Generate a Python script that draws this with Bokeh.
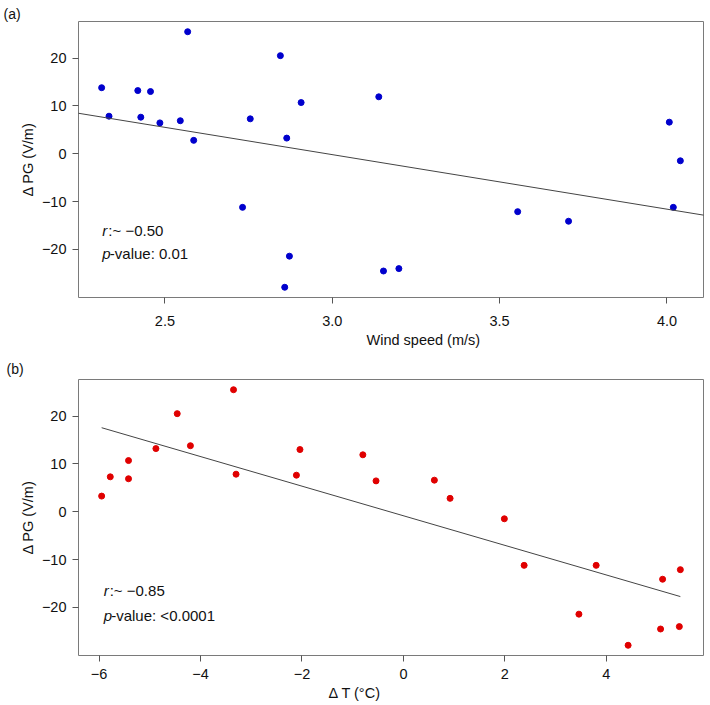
import numpy as np
from bokeh.plotting import figure
from bokeh.models import Range1d, FixedTicker, Label, Slope, Title
from bokeh.layouts import column
from bokeh.embed import file_html
from bokeh.resources import INLINE

# ---- data ----
delta_pg = [13.8, 7.85, 13.2, 7.64, 13.0, 6.45, 6.9, 25.5, 2.8, -11.2, 7.3, 20.5,
            3.27, -21.4, -27.9, 10.7, 11.9, -24.5, -24.0, -12.1, -14.1, 6.6, -11.2, -1.47]
wind_speed = [2.311, 2.333, 2.419, 2.428, 2.457, 2.485, 2.546, 2.568, 2.586, 2.732, 2.755, 2.845,
              2.864, 2.872, 2.858, 2.907, 3.139, 3.153, 3.199, 3.554, 3.706, 4.007, 4.019, 4.040]
delta_t = [-4.20, -3.30, -4.88, -2.11, -2.04, -0.54, -5.42, -3.35, 0.92, 2.38, -5.78, -4.46,
           -5.95, 3.46, 4.43, -5.42, -0.80, 5.07, 5.44, 5.46, 5.11, 0.61, 3.80, 1.99]

pg_ticks = [-20, -10, 0, 10, 20]
pg_tick_labels = ["\u221220", "\u221210", "0", "10", "20"]
wind_ticks = [2.5, 3.0, 3.5, 4.0]
wind_tick_labels = ["2.5", "3.0", "3.5", "4.0"]
dt_ticks = [-6, -4, -2, 0, 2, 4]
dt_tick_labels = ["\u22126", "\u22124", "\u22122", "0", "2", "4"]

stats_a = ["r", ":~ \u22120.50", "p", "-value: 0.01"]
stats_b = ["r", ":~ \u22120.85", "p", "-value: <0.0001"]

FONT = "Liberation Sans"
FS = "14.5px"
TXT = "#111111"


def r_range(vals):
    lo, hi = min(vals), max(vals)
    d = (hi - lo) * 0.04
    return Range1d(lo - d, hi + d)


def style(p, xt, xl, yt, yl, xstand):
    p.outline_line_color = "#7a7a7a"
    p.outline_line_width = 1
    p.xgrid.visible = False
    p.ygrid.visible = False
    for ax, t, l in ((p.xaxis[0], xt, xl), (p.yaxis[0], yt, yl)):
        ax.ticker = FixedTicker(ticks=t, minor_ticks=[])
        ax.major_label_overrides = {k: v for k, v in zip(t, l)}
        ax.axis_line_color = None
        ax.major_tick_line_color = "#555555"
        ax.major_tick_out = 6
        ax.major_tick_in = 0
        ax.minor_tick_line_color = None
        ax.major_label_text_font = FONT
        ax.major_label_text_font_size = FS
        ax.major_label_text_color = TXT
        ax.axis_label_text_font = FONT
        ax.axis_label_text_font_size = FS
        ax.axis_label_text_font_style = "normal"
        ax.axis_label_text_color = TXT
    p.xaxis.major_label_standoff = xstand
    p.yaxis.major_label_standoff = 6
    p.yaxis.axis_label_standoff = 3
    p.yaxis.major_label_orientation = "horizontal"


def add_text(p, x, y, t, xo=0, style="normal", size="15px"):
    p.add_layout(Label(x=x, y=y, text=t, x_offset=xo, text_font=FONT,
                       text_font_size=size, text_font_style=style,
                       text_baseline="middle", text_color=TXT))


def add_stats(p, x, y1, y2, texts):
    add_text(p, x, y1, texts[0], style="italic")
    add_text(p, x, y1, texts[1], xo=6)
    add_text(p, x, y2, texts[2], style="italic")
    add_text(p, x, y2, texts[3], xo=7.5)


def side_title(p, txt, where, off, stand, size=FS):
    p.add_layout(Title(text=txt, align="left", offset=off, standoff=stand,
                       text_font=FONT, text_font_size=size,
                       text_font_style="normal", text_color=TXT), where)


# ---- panel (a) ----
pa = figure(width=710, height=350, output_backend="svg", toolbar_location=None,
            x_range=r_range(wind_speed), y_range=r_range(delta_pg),
            min_border_left=78, min_border_right=4, min_border_top=21, min_border_bottom=53,
            y_axis_label="\u0394 PG (V/m)")
style(pa, wind_ticks, wind_tick_labels, pg_ticks, pg_tick_labels, 12)
side_title(pa, "(a)", "above", -75, 0, "14px")
side_title(pa, "Wind speed (m/s)", "below", 288, 3)
sa, ia = np.polyfit(wind_speed, delta_pg, 1)
pa.add_layout(Slope(gradient=sa, y_intercept=ia, line_color="#444444", line_width=1))
pa.scatter(wind_speed, delta_pg, size=6, color="#0000CD")
add_stats(pa, 2.313, -16.0, -20.8, stats_a)

# ---- panel (b) ----
pb = figure(width=710, height=355, output_backend="svg", toolbar_location=None,
            x_range=r_range(delta_t), y_range=r_range(delta_pg),
            min_border_left=75, min_border_right=7, min_border_top=29, min_border_bottom=50,
            y_axis_label="\u0394 PG (V/m)")
style(pb, dt_ticks, dt_tick_labels, pg_ticks, pg_tick_labels, 7)
side_title(pb, "(b)", "above", -72, 5, "14px")
side_title(pb, "\u0394 T (\u00b0C)", "below", 250, 3)
sb, ib = np.polyfit(delta_t, delta_pg, 1)
xl = np.array([min(delta_t), max(delta_t)])
pb.line(xl, sb * xl + ib, line_color="#444444", line_width=1)
pb.scatter(delta_t, delta_pg, size=6, color="#E00000")
add_stats(pb, -5.91, -16.4, -21.7, stats_b)

layout = column(pa, pb, spacing=0)
open("out.html", "w").write(file_html(layout, INLINE))
